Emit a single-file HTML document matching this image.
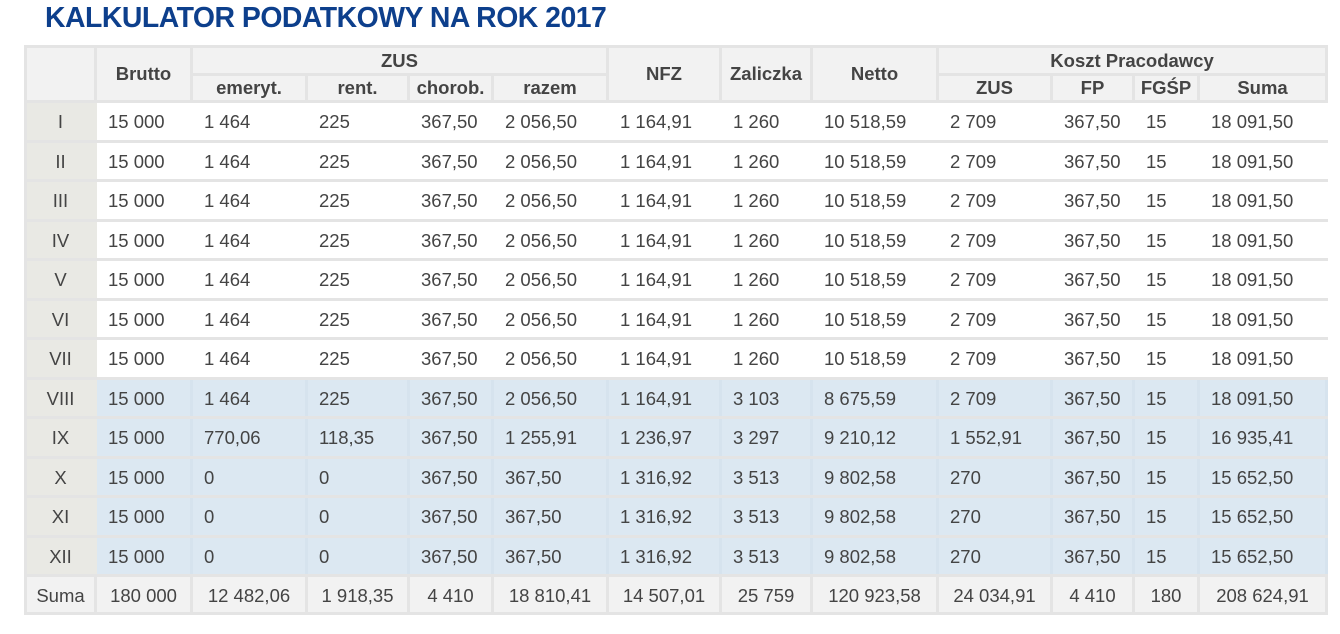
<!DOCTYPE html>
<html><head><meta charset="utf-8"><style>
body{margin:0;background:#fff;width:1340px;height:634px;overflow:hidden;font-family:"Liberation Sans",sans-serif;color:#444}
h1{position:absolute;left:45px;top:2px;margin:0;font-size:28.4px;font-weight:bold;color:#0d3f8c;letter-spacing:-0.5px}
table{position:absolute;left:24px;top:45px;border-collapse:collapse;table-layout:fixed;width:1301px}
td,th{border:3px solid #e4e4e4;font-size:18.5px;padding:0 0 0 11px;text-align:left;white-space:nowrap;overflow:hidden}
th{background:#f2f2f2;font-weight:bold;text-align:center;padding:0;color:#444}
thead tr.a th{height:25px}
thead tr.b th{height:24px}
tbody td{height:34.5px;padding-top:2px;background:#fff;border-left-color:#fff;border-right-color:#fff}
tbody td.m{background:#e9e9e4;text-align:center;padding:2px 0 0 0;border-left-color:#e4e4e4;border-right-color:#e9e9e4}
tbody tr.bl td{background:#dce8f2;border-left-color:#d6e3ee;border-right-color:#d6e3ee}
tbody tr.bl td.m{background:#e9e9e4;border-left-color:#e4e4e4;border-right-color:#e9e9e4}
tbody tr.s td{background:#f2f2f2;text-align:center;padding:2px 0 0 0;height:33px;border-color:#e4e4e4}
</style></head><body>
<h1>KALKULATOR PODATKOWY NA ROK 2017</h1>
<table>
<colgroup><col style="width:70px"><col style="width:96px"><col style="width:115px"><col style="width:102px"><col style="width:84px"><col style="width:115px"><col style="width:113px"><col style="width:91px"><col style="width:126px"><col style="width:114px"><col style="width:82px"><col style="width:65px"><col style="width:128px"></colgroup>
<thead>
<tr class="a"><th rowspan="2"></th><th rowspan="2">Brutto</th><th colspan="4">ZUS</th><th rowspan="2">NFZ</th><th rowspan="2">Zaliczka</th><th rowspan="2">Netto</th><th colspan="4">Koszt Pracodawcy</th></tr>
<tr class="b"><th>emeryt.</th><th>rent.</th><th>chorob.</th><th>razem</th><th>ZUS</th><th>FP</th><th>FGŚP</th><th>Suma</th></tr>
</thead>
<tbody>
<tr><td class="m">I</td><td>15 000</td><td>1 464</td><td>225</td><td>367,50</td><td>2 056,50</td><td>1 164,91</td><td>1 260</td><td>10 518,59</td><td>2 709</td><td>367,50</td><td>15</td><td>18 091,50</td></tr>
<tr><td class="m">II</td><td>15 000</td><td>1 464</td><td>225</td><td>367,50</td><td>2 056,50</td><td>1 164,91</td><td>1 260</td><td>10 518,59</td><td>2 709</td><td>367,50</td><td>15</td><td>18 091,50</td></tr>
<tr><td class="m">III</td><td>15 000</td><td>1 464</td><td>225</td><td>367,50</td><td>2 056,50</td><td>1 164,91</td><td>1 260</td><td>10 518,59</td><td>2 709</td><td>367,50</td><td>15</td><td>18 091,50</td></tr>
<tr><td class="m">IV</td><td>15 000</td><td>1 464</td><td>225</td><td>367,50</td><td>2 056,50</td><td>1 164,91</td><td>1 260</td><td>10 518,59</td><td>2 709</td><td>367,50</td><td>15</td><td>18 091,50</td></tr>
<tr><td class="m">V</td><td>15 000</td><td>1 464</td><td>225</td><td>367,50</td><td>2 056,50</td><td>1 164,91</td><td>1 260</td><td>10 518,59</td><td>2 709</td><td>367,50</td><td>15</td><td>18 091,50</td></tr>
<tr><td class="m">VI</td><td>15 000</td><td>1 464</td><td>225</td><td>367,50</td><td>2 056,50</td><td>1 164,91</td><td>1 260</td><td>10 518,59</td><td>2 709</td><td>367,50</td><td>15</td><td>18 091,50</td></tr>
<tr><td class="m">VII</td><td>15 000</td><td>1 464</td><td>225</td><td>367,50</td><td>2 056,50</td><td>1 164,91</td><td>1 260</td><td>10 518,59</td><td>2 709</td><td>367,50</td><td>15</td><td>18 091,50</td></tr>
<tr class="bl"><td class="m">VIII</td><td>15 000</td><td>1 464</td><td>225</td><td>367,50</td><td>2 056,50</td><td>1 164,91</td><td>3 103</td><td>8 675,59</td><td>2 709</td><td>367,50</td><td>15</td><td>18 091,50</td></tr>
<tr class="bl"><td class="m">IX</td><td>15 000</td><td>770,06</td><td>118,35</td><td>367,50</td><td>1 255,91</td><td>1 236,97</td><td>3 297</td><td>9 210,12</td><td>1 552,91</td><td>367,50</td><td>15</td><td>16 935,41</td></tr>
<tr class="bl"><td class="m">X</td><td>15 000</td><td>0</td><td>0</td><td>367,50</td><td>367,50</td><td>1 316,92</td><td>3 513</td><td>9 802,58</td><td>270</td><td>367,50</td><td>15</td><td>15 652,50</td></tr>
<tr class="bl"><td class="m">XI</td><td>15 000</td><td>0</td><td>0</td><td>367,50</td><td>367,50</td><td>1 316,92</td><td>3 513</td><td>9 802,58</td><td>270</td><td>367,50</td><td>15</td><td>15 652,50</td></tr>
<tr class="bl"><td class="m">XII</td><td>15 000</td><td>0</td><td>0</td><td>367,50</td><td>367,50</td><td>1 316,92</td><td>3 513</td><td>9 802,58</td><td>270</td><td>367,50</td><td>15</td><td>15 652,50</td></tr>
<tr class="s"><td>Suma</td><td>180 000</td><td>12 482,06</td><td>1 918,35</td><td>4 410</td><td>18 810,41</td><td>14 507,01</td><td>25 759</td><td>120 923,58</td><td>24 034,91</td><td>4 410</td><td>180</td><td>208 624,91</td></tr>
</tbody>
</table>
</body></html>
